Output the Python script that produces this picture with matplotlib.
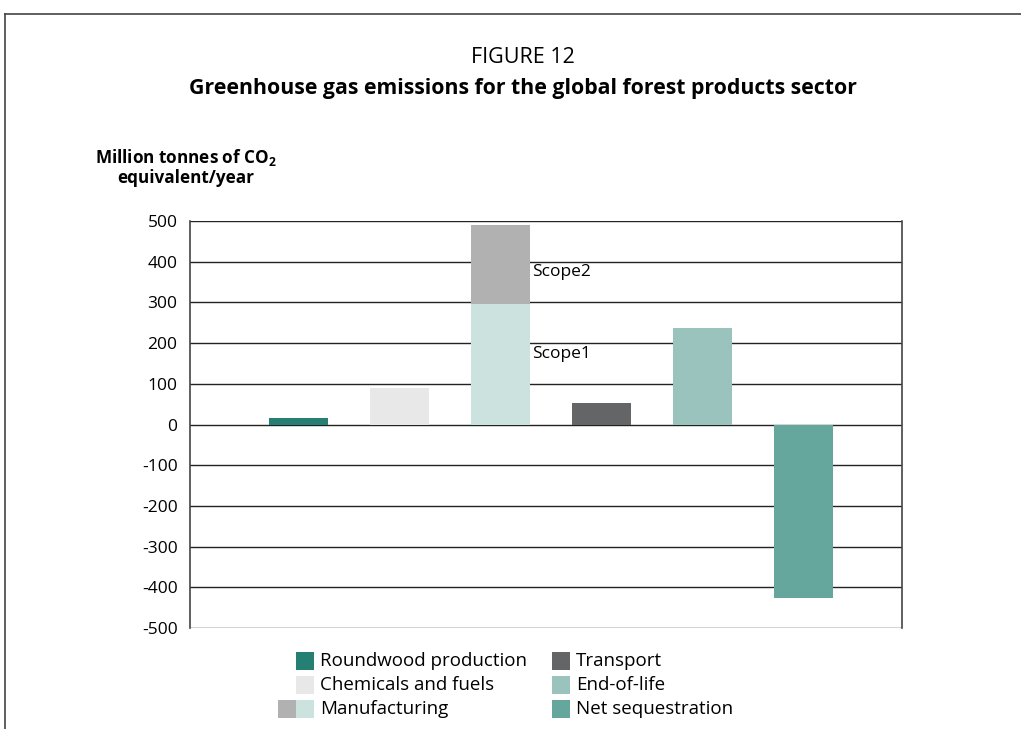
import matplotlib.pyplot as plt
from matplotlib.patches import Rectangle
from matplotlib.lines import Line2D

plt.rcParams['font.family'] = ['Open Sans', 'DejaVu Sans']

# data
categories = ["Roundwood production", "Chemicals and fuels", "Manufacturing",
              "Transport", "End-of-life", "Net sequestration"]
scope1 = [17, 90, 297, 52, 238, -425]
scope2 = [0, 0, 193, 0, 0, 0]
colors = ["#267f73", "#e8e8e8", "#cce2df", "#646567", "#9ac3bd", "#66a79d"]
scope2_color = "#b1b1b2"
yticks = list(range(-500, 501, 100))

fig = plt.figure(figsize=(10.21, 7.29), dpi=100)
ax = fig.add_axes([0.1861, 0.1385, 0.6974, 0.5583])

pos = list(range(1, len(categories) + 1))
ax.bar(pos, scope1, width=0.585, color=colors, zorder=3)
ax.bar(pos, scope2, width=0.585, bottom=scope1, color=scope2_color, zorder=3)

ax.set_xlim(-0.076, 6.977)
ax.set_ylim(-500, 500)
ax.set_yticks(yticks)
ax.set_yticklabels([str(t) for t in yticks], fontsize=12.5)
ax.set_xticks([])
ax.grid(axis='y', color='#222222', linewidth=1.0, zorder=0)
ax.tick_params(axis='y', length=0, pad=9)
for s in ['top', 'bottom']:
    ax.spines[s].set_visible(False)
for s in ['left', 'right']:
    ax.spines[s].set_color('#444444')
    ax.spines[s].set_linewidth(1.2)

# scope labels
m = categories.index("Manufacturing")
ax.text(pos[m] + 0.315, scope1[m] + scope2[m] * 0.4, "Scope2", fontsize=12.5, va='center')
ax.text(pos[m] + 0.315, scope1[m] * 0.585, "Scope1", fontsize=12.5, va='center')

# titles
fig.text(0.512, 0.921, "FIGURE 12", ha='center', va='center', fontsize=15.5)
fig.text(0.512, 0.878, "Greenhouse gas emissions for the global forest products sector",
         ha='center', va='center', fontsize=15.3, fontweight='bold')
fig.text(0.182, 0.771, "Million tonnes of CO$_\\mathregular{2}$\nequivalent/year",
         ha='center', va='center', fontsize=12.3, fontweight='bold', linespacing=1.05)

# outer frame
fig.add_artist(Line2D([0.005, 1.0], [0.981, 0.981], color='#444444', lw=1.2))
fig.add_artist(Line2D([0.005, 0.005], [0.0, 0.981], color='#444444', lw=1.2))

# legend drawn by hand
W, H = 1021, 729
sq = 18
col_x = [296, 552]
row_y = [661, 685, 709]
order = [(0, 0, 0), (1, 0, 1), (2, 0, 2), (3, 1, 0), (4, 1, 1), (5, 1, 2)]
for idx, c, r in order:
    x0, yc = col_x[c], row_y[r]
    fig.add_artist(Rectangle((x0 / W, 1 - (yc + sq / 2) / H), sq / W, sq / H,
                             transform=fig.transFigure, color=colors[idx], lw=0))
    if categories[idx] == "Manufacturing":
        fig.add_artist(Rectangle(((x0 - sq) / W, 1 - (yc + sq / 2) / H), sq / W, sq / H,
                                 transform=fig.transFigure, color=scope2_color, lw=0))
    fig.text((x0 + sq + 6) / W, 1 - yc / H, categories[idx], fontsize=13.5, va='center')

fig.savefig("out.png", dpi=100)
